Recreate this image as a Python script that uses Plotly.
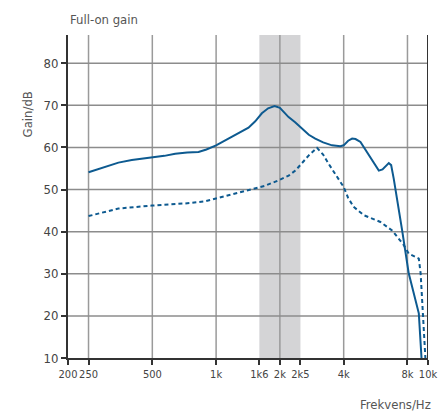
import numpy as np
import plotly.graph_objects as go

# Full-on gain (solid)
full_freq = [250, 300, 346, 400, 446, 500, 570, 641, 730, 826, 900, 1000, 1100, 1189, 1300, 1422,
             1530, 1644, 1760, 1888, 2000, 2198, 2360, 2541, 2738, 2938, 3200, 3524, 3857, 4000,
             4200, 4385, 4550, 4800, 5300, 5860, 6100, 6530, 6700, 6890, 7550, 8110, 9050, 9320]
full_gain = [54.1, 55.3, 56.4, 57.0, 57.3, 57.6, 58.0, 58.5, 58.8, 58.9, 59.5, 60.5, 61.6, 62.6, 63.6, 64.7,
             66.2, 68.1, 69.3, 69.8, 69.4, 67.2, 66.0, 64.4, 63.0, 62.1, 61.2, 60.5, 60.3, 60.5,
             61.6, 62.1, 62.0, 61.3, 58.0, 54.5, 54.8, 56.3, 55.8, 52.6, 40.3, 30.1, 20.6, 10.0]

# Second response (dashed)
dash_freq = [250, 346, 497, 714, 887, 1064, 1250, 1422, 1700, 1974, 2200, 2366, 2550, 2737, 2995,
             3200, 3397, 3700, 4000, 4200, 4455, 4977, 5963, 6770, 7300, 7690, 8110, 9050, 9230,
             9550, 9720]
dash_gain = [43.7, 45.5, 46.2, 46.7, 47.2, 48.2, 49.1, 49.8, 50.9, 52.2, 53.3, 54.5, 56.3, 58.1, 59.9,
             58.3, 56.1, 53.2, 50.6, 48.0, 45.9, 43.9, 42.3, 40.3, 38.3, 36.8, 34.8, 33.6, 30.1,
             16.6, 10.0]

x_tickvals = [200, 250, 500, 1000, 1600, 2000, 2500, 4000, 8000, 10000]
x_ticktext = ["200", "250", "500", "1k", "1k6", "2k", "2k5", "4k", "8k", "10k"]
x_gridvals = [250, 500, 1000, 2000, 4000, 8000]
y_tickvals = [10, 20, 30, 40, 50, 60, 70, 80]
band = [1600, 2500]

FONT = "DejaVu Sans Condensed, Liberation Sans, sans-serif"
BLUE = "#0d5a90"

fig = go.Figure()
fig.add_trace(go.Scatter(x=full_freq, y=full_gain, mode="lines",
                         line=dict(color=BLUE, width=2),
                         showlegend=False))
fig.add_trace(go.Scatter(x=dash_freq, y=dash_gain, mode="lines",
                         line=dict(color=BLUE, width=2, dash="4px,3px"),
                         showlegend=False))

fig.add_vrect(x0=band[0], x1=band[1], fillcolor="#d4d4d6", line_width=0, layer="below")

for xv in x_gridvals:
    fig.add_vline(x=xv, line=dict(color="#9a9a9a", width=1.5), layer="below")
for yv in y_tickvals[1:]:
    fig.add_hline(y=yv, line=dict(color="#8c8c8c", width=1.5), layer="below")
fig.add_vline(x=10000, line=dict(color="#333333", width=2), layer="above")

fig.update_xaxes(type="log", range=[np.log10(200), np.log10(10000)],
                 tickvals=x_tickvals, ticktext=x_ticktext, showgrid=False,
                 showline=True, linecolor="#333333", linewidth=2, automargin=False,
                 tickangle=0,
                 ticks="outside", ticklen=5, tickcolor="#333333", tickwidth=1.5,
                 tickfont=dict(family=FONT, size=11, color="#444444"), zeroline=False)
fig.update_yaxes(range=[10, 86.7], tickvals=y_tickvals, showgrid=False,
                 showline=True, linecolor="#333333", linewidth=2, automargin=False,
                 ticks="outside", ticklen=5, tickcolor="#333333", tickwidth=1.5,
                 tickfont=dict(family=FONT, size=13, color="#444444"), zeroline=False)

fig.add_annotation(text="Full-on gain", xref="paper", yref="paper", x=0, y=1,
                   xanchor="left", yanchor="bottom", yshift=6, showarrow=False,
                   font=dict(family=FONT, size=13, color="#555555"))
fig.add_annotation(text="Gain/dB", xref="paper", yref="paper", x=0, y=0.83,
                   xshift=-50, textangle=-90, showarrow=False,
                   font=dict(family=FONT, size=13, color="#555555"))
fig.add_annotation(text="Frekvens/Hz", xref="paper", yref="paper", x=1, y=0,
                   xanchor="right", yanchor="middle", xshift=5, yshift=-46, showarrow=False,
                   font=dict(family=FONT, size=13, color="#555555"))

fig.update_layout(width=439, height=411, margin=dict(l=68, r=11, t=35, b=53),
                  plot_bgcolor="white", paper_bgcolor="white")
fig.write_html("out.html", config={"displayModeBar": False},
               post_script="document.body.style.margin='0';document.body.style.overflow='hidden';")
